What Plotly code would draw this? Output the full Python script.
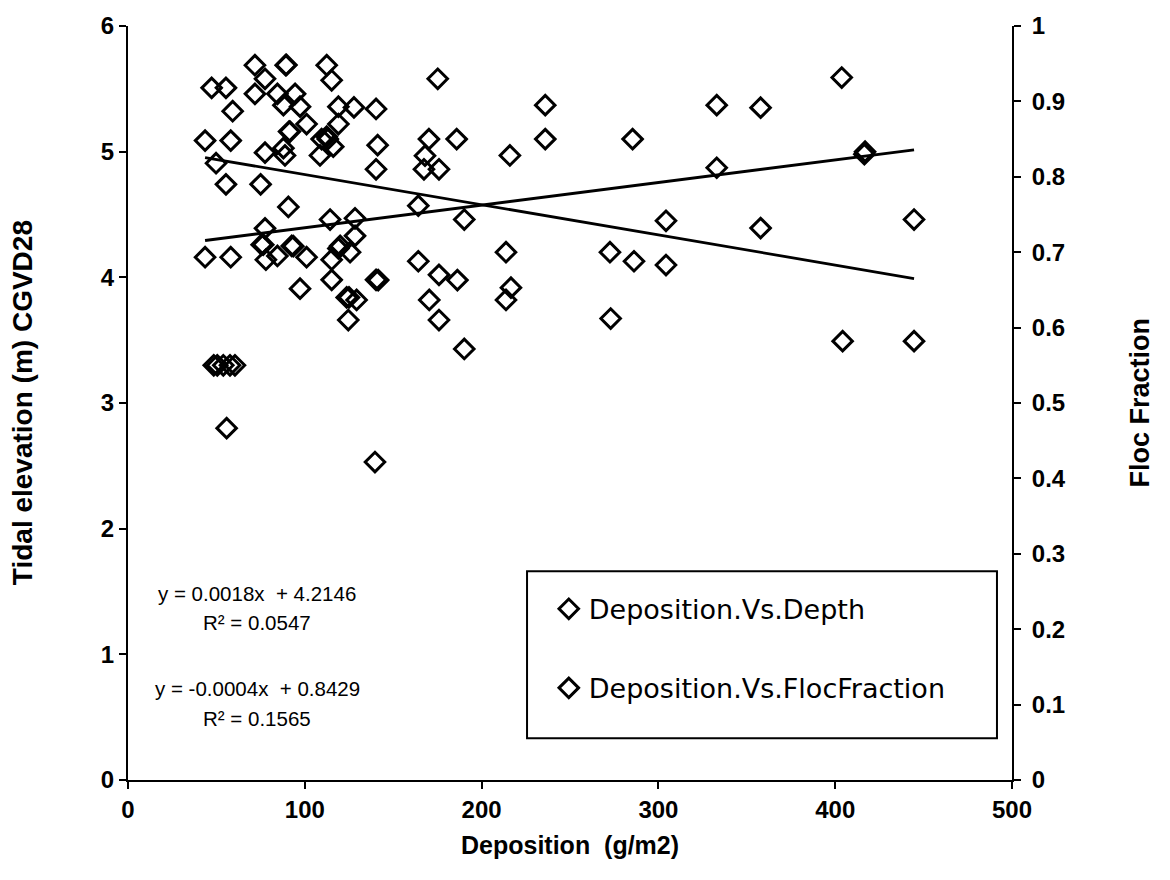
import plotly.graph_objects as go

# ---- data ----
depth_x = [43.6, 48.5, 50.5, 53.9, 55.8, 58.1, 75.0, 77.5, 75.6, 78.0, 84.5, 89.6, 91.1, 88.8, 90.7,
           92.6, 97.3, 101.0, 112.4, 108.6, 116.1, 114.3, 115.2, 115.2, 119.0, 120.0, 128.4, 128.4,
           125.6, 123.7, 129.3, 124.6, 140.3, 140.3, 139.7, 164.2, 167.4, 170.4, 175.9, 175.9, 190.2,
           190.2, 216.0, 213.8, 236.0, 272.6, 285.4, 304.3, 333.0, 357.8, 403.7, 416.9, 444.6]
depth_y = [4.16, 3.30, 3.30, 3.30, 2.80, 4.16, 4.74, 4.39, 4.26, 4.14, 4.17, 5.69, 5.16, 4.97, 4.56,
           4.25, 3.91, 4.16, 5.12, 4.97, 5.04, 4.46, 4.14, 3.98, 4.23, 4.25, 4.47, 4.33,
           4.20, 3.84, 3.82, 3.66, 4.86, 3.98, 2.53, 4.57, 4.86, 3.82, 4.86, 4.02, 4.46,
           3.43, 4.97, 3.82, 5.37, 4.20, 5.10, 4.45, 5.37, 5.35, 5.59, 5.00, 4.46]

floc_x = [43.6, 47.3, 49.8, 55.4, 55.4, 57.7, 60.5, 59.2, 58.1, 71.8, 71.8, 77.5, 77.5, 76.5, 84.5,
          89.2, 87.9, 91.6, 87.9, 93.5, 94.5, 97.3, 101.0, 112.4, 113.0, 109.5, 115.2, 119.0, 119.0,
          127.8, 125.0, 140.3, 141.2, 141.5, 164.2, 170.2, 168.0, 175.2, 175.9, 185.9, 186.3, 213.8,
          216.6, 236.0, 273.0, 286.2, 304.3, 333.0, 357.8, 404.2, 416.5, 444.6]
floc_y = [0.848, 0.918, 0.818, 0.918, 0.790, 0.550, 0.550, 0.887, 0.848, 0.948, 0.910, 0.930, 0.832,
          0.710, 0.910, 0.948, 0.895, 0.860, 0.838, 0.708, 0.910, 0.893, 0.870, 0.948, 0.850, 0.850,
          0.928, 0.893, 0.870, 0.892, 0.640, 0.890, 0.842, 0.663, 0.688, 0.850, 0.828, 0.930, 0.610,
          0.850, 0.663, 0.700, 0.653, 0.850, 0.612, 0.688, 0.683, 0.812, 0.732, 0.582, 0.830, 0.582]

# trend line coefficients (as printed on the chart)
depth_fit = (0.0018, 4.2146)
floc_fit = (-0.0004, 0.8429)
fit_labels = ["y = 0.0018x  + 4.2146", "R² = 0.0547", "y = -0.0004x  + 0.8429", "R² = 0.1565"]

x_ticks = [0, 100, 200, 300, 400, 500]
y1_ticks = [0, 1, 2, 3, 4, 5, 6]
y2_ticks = [0, 0.1, 0.2, 0.3, 0.4, 0.5, 0.6, 0.7, 0.8, 0.9, 1]
y2_text = ["0", "0.1", "0.2", "0.3", "0.4", "0.5", "0.6", "0.7", "0.8", "0.9", "1"]

FONT = "Liberation Sans, Arial, sans-serif"
WIDE = "DejaVu Sans, Verdana, sans-serif"
marker = dict(symbol="diamond-open", size=15, color="black", line=dict(width=3, color="black"))

fig = go.Figure()
fig.add_trace(go.Scatter(x=depth_x, y=depth_y, mode="markers", name="Deposition.Vs.Depth",
                         marker=marker, legendgroup="a"))
fig.add_trace(go.Scatter(x=floc_x, y=floc_y, mode="markers", name="Deposition.Vs.FlocFraction",
                         marker=marker, yaxis="y2", legendgroup="b"))

xmin, xmax = min(depth_x), max(depth_x)
fig.add_trace(go.Scatter(x=[xmin, xmax], y=[depth_fit[0] * xmin + depth_fit[1], depth_fit[0] * xmax + depth_fit[1]],
                         mode="lines", line=dict(color="black", width=2.8), showlegend=False))
fig.add_trace(go.Scatter(x=[xmin, xmax], y=[floc_fit[0] * xmin + floc_fit[1], floc_fit[0] * xmax + floc_fit[1]],
                         mode="lines", line=dict(color="black", width=2.8), showlegend=False, yaxis="y2"))

axis_common = dict(showline=True, linecolor="black", linewidth=2, ticks="outside", ticklen=7,
                   tickwidth=2, tickcolor="black", showgrid=False, zeroline=False,
                   tickfont=dict(family=FONT, size=24, color="black", weight="bold"))

fig.update_layout(
    width=1170, height=880,
    margin=dict(l=128, r=158, t=22, b=100),
    paper_bgcolor="white", plot_bgcolor="white",
    xaxis=dict(range=[0, 500], tickvals=x_ticks, **axis_common),
    yaxis=dict(range=[0, 6], tickvals=y1_ticks, **axis_common),
    yaxis2=dict(range=[0, 1], tickvals=y2_ticks, ticktext=y2_text, overlaying="y", side="right",
                anchor="x", ticklabelstandoff=6, **axis_common),
    showlegend=True,
    legend=dict(x=0.476, y=0.259, xanchor="left", yanchor="top", bgcolor="rgba(0,0,0,0)",
                borderwidth=0, font=dict(family=WIDE, size=27, color="black"),
                traceorder="grouped", tracegroupgap=41, itemsizing="trace"),
)

fig.add_shape(type="rect", xref="paper", yref="paper", x0=0.4514, x1=0.983, y0=0.0554, y1=0.277,
              line=dict(color="black", width=2), fillcolor="white", layer="below")

ann_y = [0.248, 0.2084, 0.1214, 0.0818]
for txt, yy in zip(fit_labels, ann_y):
    fig.add_annotation(text=txt, x=0.146, y=yy, xref="paper", yref="paper", showarrow=False,
                       font=dict(family=FONT, size=20.5, color="black"), xanchor="center", yanchor="middle")

fig.add_annotation(text="Deposition  (g/m2)", x=0.5, y=-0.0858, xref="paper", yref="paper", showarrow=False,
                   font=dict(family=FONT, size=25, color="black", weight="bold"), yanchor="middle")
fig.add_annotation(text="Tidal elevation (m) CGVD28", x=-0.12, y=0.501, xref="paper", yref="paper",
                   showarrow=False, textangle=-90,
                   font=dict(family=FONT, size=28, color="black", weight="bold"), xanchor="center", yanchor="middle")
fig.add_annotation(text="Floc Fraction", x=1.145, y=0.501, xref="paper", yref="paper",
                   showarrow=False, textangle=-90,
                   font=dict(family=FONT, size=27, color="black", weight="bold"), xanchor="center", yanchor="middle")

fig.write_html("out.html")
